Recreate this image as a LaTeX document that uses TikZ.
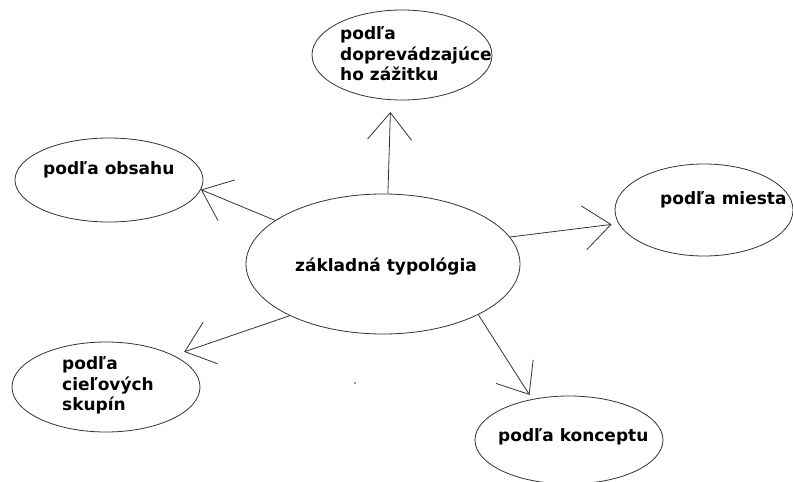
\documentclass[tikz,border=0pt]{standalone}
\usepackage{fontspec}
\setmainfont{DejaVu Sans}
\usetikzlibrary{shapes.geometric,arrows.meta}
\begin{document}
\begin{tikzpicture}[x=1pt,y=-1pt,
  oval/.style={draw=black!80,line width=0.8pt,ellipse,inner sep=0pt},
  lbl/.style={font=\bfseries\fontsize{17}{20.5}\selectfont,align=left,inner sep=0pt,anchor=west,text=black},
  conn/.style={draw=black!80,line width=0.8pt,-{Straight Barb[length=27pt,width=44pt,line width=0.8pt]}}]
\useasboundingbox (0,0) rectangle (793,482);
% ellipses
\node[oval,minimum width=274pt,minimum height=140pt] (c) at (383,264) {};
\node[oval,minimum width=180pt,minimum height=90pt] (top) at (402,55) {};
\node[oval,minimum width=188pt,minimum height=84pt] (obs) at (109,180) {};
\node[oval,minimum width=178pt,minimum height=92pt] (mie) at (704,210) {};
\node[oval,minimum width=188pt,minimum height=90pt] (cie) at (106,387) {};
\node[oval,minimum width=188pt,minimum height=88pt] (kon) at (569,440) {};
% labels
\node[lbl] (tc) at (295,267) {základná typológia};
\node[lbl] (tt) at (340,54) {podľa\\doprevádzajúce\\ho zážitku};
\node[lbl] (to) at (43,170) {podľa obsahu};
\node[lbl] (tm) at (660,200) {podľa miesta};
\node[lbl] (tci) at (62,385.5) {podľa\\cieľových\\skupín};
\node[lbl] (tk) at (498,437) {podľa konceptu};
% connectors
\draw[conn,shorten >=12pt] (c.86.7) -- (top.-104.7);
\draw[conn] (c.158.2) -- (obs.-6.3);
\draw[conn,shorten >=7pt] (c.12.9) -- (mie.189.3);
\draw[conn,shorten >=11pt] (c.209.4) -- (cie.25.7);
\draw[conn,shorten >=5pt] (c.332.7) -- (kon.132.3);
% stray dot
\fill[black!80] (355,383) circle (0.8pt);
\end{tikzpicture}
\end{document}
